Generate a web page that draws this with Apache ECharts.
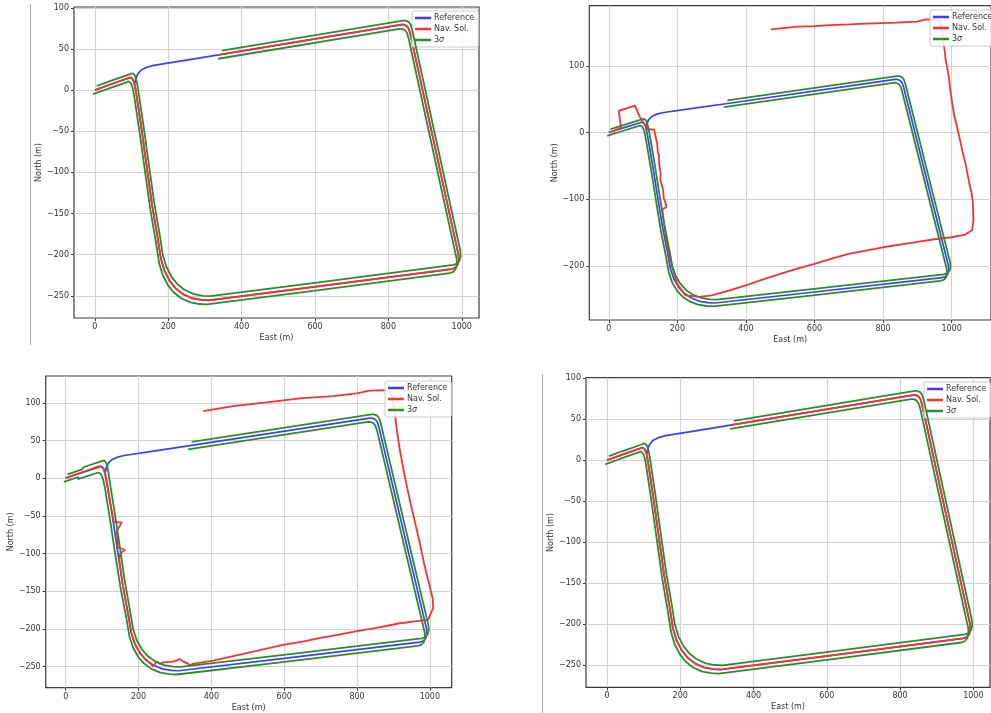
<!DOCTYPE html>
<html>
<head>
<meta charset="utf-8">
<script src="https://cdn.jsdelivr.net/npm/echarts@6/dist/echarts.min.js"></script>
<style>html,body{margin:0;padding:0;background:#fff}#c{width:991px;height:713px}</style>
</head>
<body>
<div id="c"></div>
<script>
// ---------- data (metres) ----------
// reference trajectory: part covered by the navigation run
const routeE = [0, 40, 42, 91, 97, 103, 107, 110, 113, 128, 141, 156, 172, 180, 190, 204, 220, 240, 265, 290, 310, 600, 972, 982, 989, 992, 991, 942, 860, 856, 850, 842, 835, 341];
const routeN = [0, 6.5, 6.8, 14.5, 15.5, 13.5, 9, 3, -5, -50, -92, -140, -182, -205, -220, -232, -241, -248, -253, -255, -255.5, -239, -217.5, -216, -212, -207, -200, -100, 68, 74, 78, 79.5, 79.5, 43.1];
// reference trajectory: remaining part (loop closure)
const returnE = [341, 250, 160, 140, 125, 116, 111, 109];
const returnN = [43.1, 36.5, 30, 27.5, 24, 19, 13, 8];

// 3-sigma bound per route point, per panel
const sigma1 = [5,5,5,5,5,5,5,5,5,5,5,5,5,5,5,5,5,5,5,5,5,5,5,5,5,5,5,5,5,5,5,5,5,5];
const sigma2 = [5,5,5,5,5,5,5,5,5,5,5,5,5,5,5,5,5,5,5,5,5,5,5,5,5,5,5,5,5,5,5,5,5,5];
const sigma3 = [5,5,8,8,8,7.5,7,6.5,6,6,6,5.5,5,5,5,5,5,5,5,5,5,5,5,5,5,5,5,5,5,5,5,5,5,5];
const sigma4 = [5,5,5,5,5,5,5,5,5,5,5,5,5,5,5,5,5,5,5,5,5,5,5,5,5,5,5,5,5,5,5,5,5,5];

// navigation solutions
const nav1E = routeE, nav1N = routeN;
const nav4E = routeE, nav4N = routeN;
const nav2E = [0, 20, 35.6, 28.9, 76, 90.5, 103, 115, 132, 141, 143, 146, 147, 151, 150, 155, 158, 160, 164, 165, 168, 170, 156, 158, 165, 175, 184.6, 199, 223, 261.5, 300, 350, 400, 450, 500, 550, 600, 650, 700, 750, 800, 850, 900, 950, 1000, 1040, 1060, 1064, 1061.5, 1058, 1050, 1042, 1031, 1024, 1016, 1008, 1002, 996, 992, 988, 983, 978, 973, 968, 950, 925, 900, 838.5, 750, 700, 646, 600, 550, 473];
const nav2N = [0, 3.5, 7.5, 32.3, 40.4, 23.4, 13.5, 4.5, 4.5, -16.5, -30, -33, -48, -61, -70, -80, -85, -98, -100, -105, -112, -113.7, -115, -125, -151.5, -180, -201.5, -226.5, -244, -246.5, -244, -237, -229, -220, -212, -204, -197, -189, -182, -177, -172, -168, -164, -160, -157, -153, -146.5, -131.5, -101.5, -90, -71.5, -50, -26.5, -10, 8.5, 25, 43.5, 65, 83.5, 95, 108.5, 130, 148.5, 167, 169, 169.6, 166, 164.5, 163, 162, 161, 159.5, 158.5, 154.5];
const nav3E = [0, 30, 60, 92, 98, 104, 108, 112, 125, 132, 154, 140, 143, 143, 163, 150, 147, 156, 172, 180, 190, 204, 220, 231.5, 240.5, 249.8, 259, 268, 295.4, 313.7, 322, 335, 341, 350, 405, 460, 533, 600, 650, 700, 735, 800, 850, 917.6, 960, 995, 1000, 1009, 1008, 1000, 985, 972.5, 960, 945, 930, 917.6, 910, 903.9, 894.8, 881, 835, 798.8, 734.6, 643, 551.7, 460, 377.7];
const nav3N = [0, 5.5, 10.5, 16, 15.5, 12, 5, -5, -40, -58, -59, -70, -85, -92, -95, -100, -108, -140, -182, -205, -220, -232, -241, -245.5, -250, -243.4, -246.4, -244.5, -243.4, -240.2, -243, -246, -248, -246.4, -242, -236, -228, -221, -217, -212, -209, -203, -199, -192.5, -190, -188, -185.8, -172.6, -160, -144, -115, -86.4, -60, -29, 5, 37.3, 62, 86, 112.4, 116.8, 116, 112.4, 108.9, 105.8, 100.5, 95.6, 89];

// tick values
const xTicks = [0, 200, 400, 600, 800, 1000];
const yTicks50 = [-250, -200, -150, -100, -50, 0, 50, 100];
const yTicks100 = [-200, -100, 0, 100];

// ---------- layout ----------
const panels = [
  {left: 74, top: 7, width: 405, height: 311, x: [-57, 1047], y: [-277, 101], yt: yTicks50, lg: [412, 11],
   nav: [nav1E, nav1N], sig: sigma1},
  {left: 589.3, top: 5.7, width: 406.7, height: 314.3, x: [-57, 1115], y: [-281, 190], yt: yTicks100, lg: [930, 10],
   nav: [nav2E, nav2N], sig: sigma2},
  {left: 45.7, top: 376, width: 406, height: 311.7, x: [-55, 1060], y: [-278, 135.5], yt: yTicks50, lg: [385, 381],
   nav: [nav3E, nav3N], sig: sigma3},
  {left: 586, top: 377.7, width: 404, height: 309.6, x: [-57.3, 1045.5], y: [-277.2, 100.7], yt: yTicks50, lg: [924, 382],
   nav: [nav4E, nav4N], sig: sigma4}
];

const C_REF = '#3d3dfb', C_NAV = '#fb3030', C_SIG = '#2c8c2c';
const FONT = 'DejaVu Sans';
const fmt = v => (v < 0 ? '\u2212' + Math.abs(v) : String(v));
const pairs = (E, N) => E.map((e, i) => [e, N[i]]);

const grid = [], xAxis = [], yAxis = [], series = [], legend = [];
panels.forEach((p, i) => {
  grid.push({left: p.left, top: p.top, width: p.width, height: p.height, show: true,
    borderColor: '#3a3a3a', borderWidth: 1.2, backgroundColor: '#fff'});
  xAxis.push({type: 'value', gridIndex: i, min: p.x[0], max: p.x[1], position: 'bottom',
    axisLine: {show: false, onZero: false},
    axisTick: {show: true, length: 3, customValues: xTicks, lineStyle: {color: '#3a3a3a'}},
    axisLabel: {customValues: xTicks, formatter: fmt, fontSize: 8, color: '#333', margin: 5, fontFamily: FONT},
    splitLine: {show: true, lineStyle: {color: '#d2d2d2', width: 1.2}},
    name: 'East (m)', nameLocation: 'middle', nameGap: 16,
    nameTextStyle: {fontSize: 8, color: '#333', fontFamily: FONT}});
  yAxis.push({type: 'value', gridIndex: i, min: p.y[0], max: p.y[1], position: 'left',
    axisLine: {show: false, onZero: false},
    axisTick: {show: true, length: 3, customValues: p.yt, lineStyle: {color: '#3a3a3a'}},
    axisLabel: {customValues: p.yt, formatter: fmt, fontSize: 8, color: '#333', margin: 5, fontFamily: FONT},
    splitLine: {show: true, lineStyle: {color: '#d2d2d2', width: 1.2}},
    name: 'North (m)', nameLocation: 'middle', nameGap: 28, nameRotate: 90,
    nameTextStyle: {fontSize: 8, color: '#333', fontFamily: FONT}});

  const base = {type: 'line', xAxisIndex: i, yAxisIndex: i, showSymbol: false, symbol: 'none',
    silent: true, animation: false, emphasis: {disabled: true}};
  const refPts = pairs(routeE, routeN).concat(pairs(returnE, returnN).slice(1));
  series.push(Object.assign({}, base, {name: 'Reference', color: C_REF, data: refPts,
    lineStyle: {color: C_REF, width: 1.7}, z: 2}));
  series.push(Object.assign({}, base, {name: 'Nav. Sol.', color: C_NAV, data: pairs(p.nav[0], p.nav[1]),
    lineStyle: {color: C_NAV, width: 1.8}, z: 3}));
  const up = routeE.map((e, k) => [e + p.sig[k], routeN[k] + p.sig[k]]);
  const lo = routeE.map((e, k) => [e - p.sig[k], routeN[k] - p.sig[k]]);
  series.push(Object.assign({}, base, {name: '3σ', color: C_SIG, data: up,
    lineStyle: {color: C_SIG, width: 1.8}, z: 4}));
  series.push(Object.assign({}, base, {name: '3σ', color: C_SIG, data: lo,
    lineStyle: {color: C_SIG, width: 1.8}, z: 4}));

  legend.push({left: p.lg[0], top: p.lg[1], orient: 'vertical', selectedMode: false,
    data: ['Reference', 'Nav. Sol.', '3σ'], icon: 'rect', itemWidth: 16, itemHeight: 2.5, itemGap: 1,
    backgroundColor: 'rgba(255,255,255,0.85)', borderColor: '#cccccc', borderWidth: 1, borderRadius: 2,
    padding: [2, 4, 2, 3],
    formatter: n => (n === '3σ' ? '3{i|σ}' : n),
    textStyle: {fontSize: 8, color: '#333', fontFamily: FONT, lineHeight: 10, padding: [0, 0, 0, -2],
      rich: {i: {fontStyle: 'italic', fontSize: 8, fontFamily: FONT, color: '#333'}}}});
});

const chart = echarts.init(document.getElementById('c'), null, {renderer: 'canvas'});
chart.setOption({
  animation: false,
  backgroundColor: '#fff',
  grid, xAxis, yAxis, series, legend,
  graphic: [
    {type: 'line', shape: {x1: 30.5, y1: 4, x2: 30.5, y2: 345}, style: {stroke: '#a8a8a8', lineWidth: 1}, silent: true},
    {type: 'line', shape: {x1: 542.5, y1: 374, x2: 542.5, y2: 713}, style: {stroke: '#a8a8a8', lineWidth: 1}, silent: true}
  ]
});
</script>
</body>
</html>
